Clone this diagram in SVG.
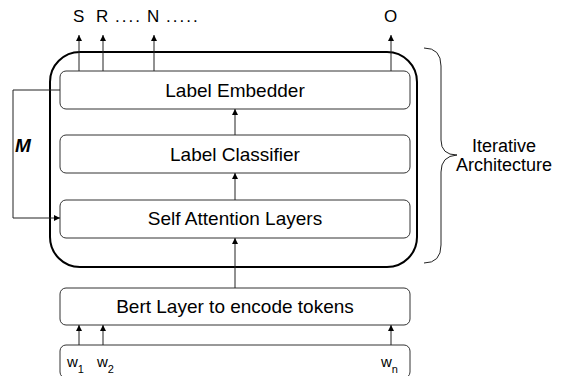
<svg xmlns="http://www.w3.org/2000/svg" width="566" height="376" viewBox="0 0 566 376">
<defs>
<style>
.box{fill:#fff;stroke:#333;stroke-width:1}
.t{font-family:"Liberation Sans",Arial,sans-serif;fill:#000}
.lbl{font-size:19px;text-anchor:middle}
.ln{fill:none;stroke:#222;stroke-width:1}
</style>
<marker id="ah" viewBox="0 0 6 8" refX="6" refY="4" markerWidth="6" markerHeight="8" markerUnits="userSpaceOnUse" orient="auto">
<path d="M0,1 L6,4 L0,7 Z" fill="#000"/>
</marker>
</defs>
<rect width="566" height="376" fill="#fff"/>
<g id="iterative-frame">
<rect x="50" y="52" width="367" height="215" rx="30" ry="30" fill="none" stroke="#000" stroke-width="2"/>
</g>
<g id="label-embedder">
<rect class="box" x="60" y="71" width="350" height="38" rx="6"/>
<text class="t lbl" x="235" y="97">Label Embedder</text>
</g>
<g id="label-classifier">
<rect class="box" x="60" y="135" width="350" height="38" rx="6"/>
<text class="t lbl" x="235" y="161">Label Classifier</text>
</g>
<g id="self-attention">
<rect class="box" x="60" y="200" width="350" height="38" rx="6"/>
<text class="t lbl" x="235" y="225">Self Attention Layers</text>
</g>
<g id="bert-layer">
<rect class="box" x="60" y="288" width="350" height="37" rx="6"/>
<text class="t lbl" x="235" y="313">Bert Layer to encode tokens</text>
</g>
<g id="tokens">
<rect class="box" x="60" y="345" width="350" height="33" rx="6"/>
<text class="t" font-size="15" x="67" y="367">w<tspan font-size="11" dy="6">1</tspan></text>
<text class="t" font-size="15" x="97" y="367">w<tspan font-size="11" dy="6">2</tspan></text>
<text class="t" font-size="15" x="381" y="367">w<tspan font-size="11" dy="6">n</tspan></text>
</g>
<g id="outputs">
<text class="t" font-size="17" x="73" y="22">S</text>
<text class="t" font-size="17" x="96" y="22">R<tspan letter-spacing="2"> ....</tspan></text>
<text class="t" font-size="17" x="147" y="22">N<tspan letter-spacing="2"> .....</tspan></text>
<text class="t" font-size="17" x="384" y="22">O</text>
</g>
<g id="brace-label">
<path class="ln" d="M424,48 Q441,48 441,66 L441,140 Q441,155 457,155 Q441,156 441,172 L441,245 Q441,263 424,263"/>
<text class="t" font-size="18" text-anchor="middle" x="504" y="152">Iterative</text>
<text class="t" font-size="18" text-anchor="middle" x="504" y="171">Architecture</text>
</g>
<g id="m-label">
<text class="t" font-size="19" font-weight="bold" font-style="italic" x="15" y="152">M</text>
</g>
<g id="connectors" class="ln">
<line x1="79" y1="71" x2="79" y2="35" marker-end="url(#ah)"/>
<line x1="103" y1="71" x2="103" y2="35" marker-end="url(#ah)"/>
<line x1="154" y1="71" x2="154" y2="35" marker-end="url(#ah)"/>
<line x1="391" y1="71" x2="391" y2="35" marker-end="url(#ah)"/>
<line x1="235" y1="135" x2="235" y2="109" marker-end="url(#ah)"/>
<line x1="235" y1="200" x2="235" y2="173" marker-end="url(#ah)"/>
<line x1="235" y1="288" x2="235" y2="238" marker-end="url(#ah)"/>
<line x1="79" y1="345" x2="79" y2="325" marker-end="url(#ah)"/>
<line x1="103" y1="345" x2="103" y2="325" marker-end="url(#ah)"/>
<line x1="391" y1="345" x2="391" y2="325" marker-end="url(#ah)"/>
<path d="M60,90 L13,90 L13,218 L60,218" marker-end="url(#ah)"/>
</g>
</svg>
